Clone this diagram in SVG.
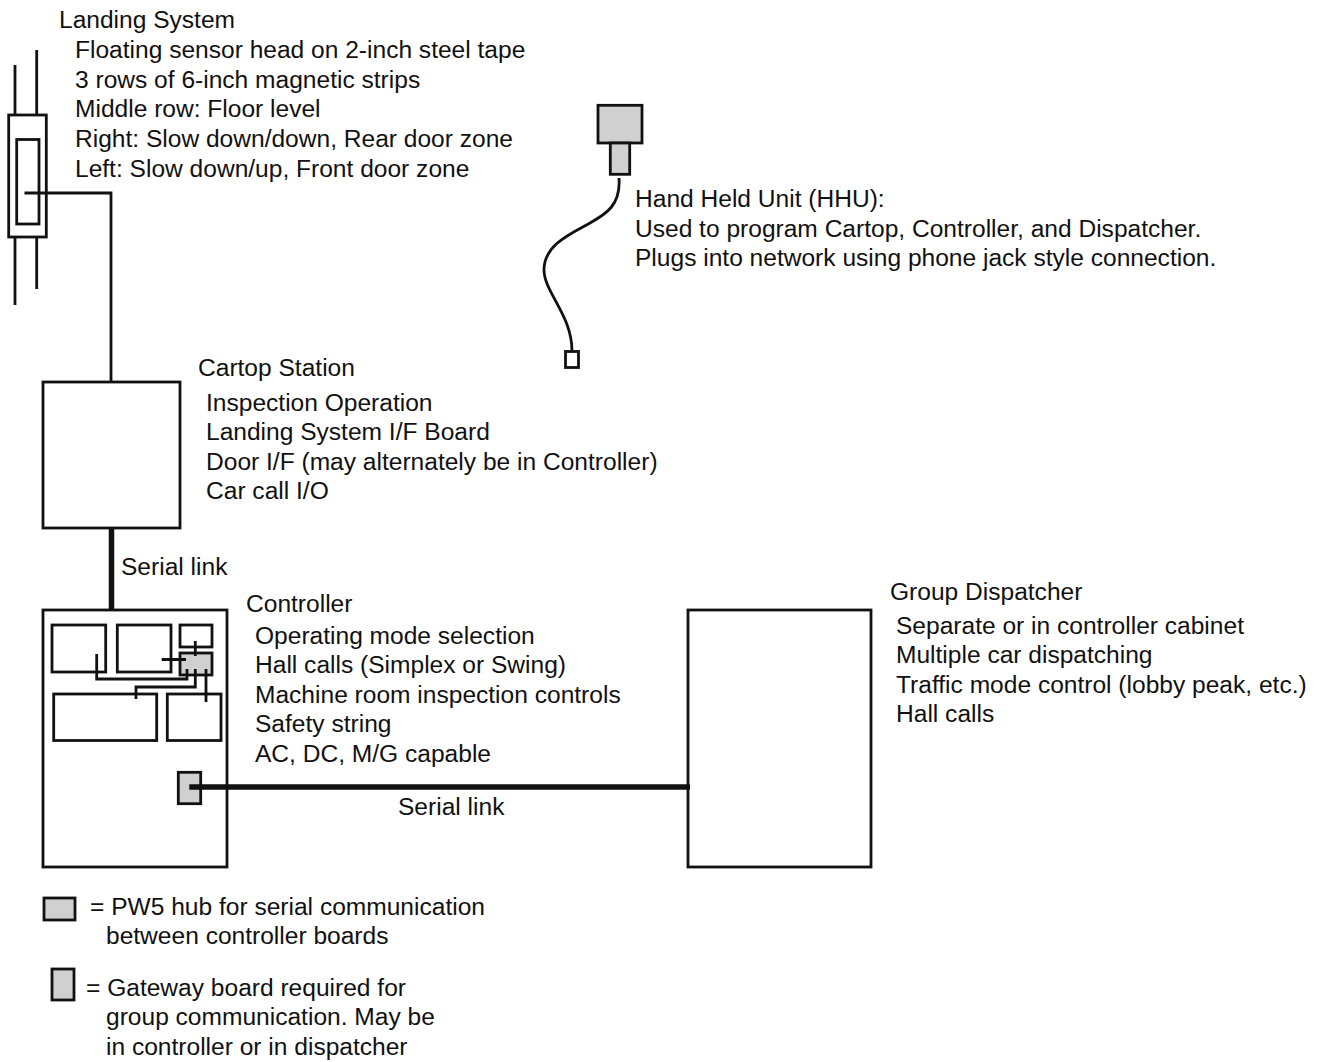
<svg xmlns="http://www.w3.org/2000/svg" width="1321" height="1062" viewBox="0 0 1321 1062">
<style>
text{font-family:"Liberation Sans",Arial,sans-serif;font-size:24.55px;fill:#111}
.b{fill:#fff;stroke:#111;stroke-width:2.8}
.g{fill:#d0d0d0;stroke:#111;stroke-width:2.8}
.l{fill:none;stroke:#111;stroke-width:2.8}
.t{fill:none;stroke:#111;stroke-width:5.5}
</style>
<rect width="1321" height="1062" fill="#fff"/>
<g id="landing-system">
<path class="l" d="M15 65V115M36.700 50V115M15 237V305M36.700 237V289"/>
<rect class="b" x="8.700" y="115" width="37.600" height="122"/>
<rect class="b" x="16.700" y="139.500" width="22.300" height="84.500"/>
<text x="59" y="28">Landing System</text>
<text x="75" y="58">Floating sensor head on 2-inch steel tape</text>
<text x="75" y="88">3 rows of 6-inch magnetic strips</text>
<text x="75" y="117">Middle row: Floor level</text>
<text x="75" y="147">Right: Slow down/down, Rear door zone</text>
<text x="75" y="177">Left: Slow down/up, Front door zone</text>
</g>
<g id="hand-held-unit">
<rect class="g" x="598" y="105.300" width="44" height="37.700"/>
<rect class="g" x="610.300" y="143" width="19.400" height="31.300"/>
<rect class="b" x="565.500" y="351.500" width="13" height="16"/>
<path class="l" d="M619 178C621 205 606 214 590 223C570 234 544 245 544 270C544 292 572 315 572 351"/>
<text x="635" y="207">Hand Held Unit (HHU):</text>
<text x="635" y="237">Used to program Cartop, Controller, and Dispatcher.</text>
<text x="635" y="266">Plugs into network using phone jack style connection.</text>
</g>
<g id="cartop-station">
<rect class="b" x="43" y="382" width="137" height="146"/>
<text x="198" y="376">Cartop Station</text>
<text x="206" y="411">Inspection Operation</text>
<text x="206" y="440">Landing System I/F Board</text>
<text x="206" y="470">Door I/F (may alternately be in Controller)</text>
<text x="206" y="499">Car call I/O</text>
</g>
<g id="controller">
<rect class="b" x="43" y="610" width="184" height="257"/>
<rect class="b" x="52" y="625" width="53.700" height="47"/>
<rect class="b" x="117.300" y="625" width="53.700" height="47"/>
<rect class="b" x="180" y="625" width="32" height="22"/>
<rect class="g" x="180" y="653" width="32" height="22"/>
<rect class="b" x="53.700" y="694" width="103" height="46.500"/>
<rect class="b" x="167.300" y="694" width="53.700" height="46.500"/>
<rect class="g" x="178.300" y="772.300" width="22.400" height="31.400"/>
<text x="246" y="612">Controller</text>
<text x="255" y="644">Operating mode selection</text>
<text x="255" y="673">Hall calls (Simplex or Swing)</text>
<text x="255" y="703">Machine room inspection controls</text>
<text x="255" y="732">Safety string</text>
<text x="255" y="762">AC, DC, M/G capable</text>
</g>
<g id="group-dispatcher">
<rect class="b" x="688" y="610" width="183" height="257"/>
<text x="890" y="600">Group Dispatcher</text>
<text x="896" y="634">Separate or in controller cabinet</text>
<text x="896" y="663">Multiple car dispatching</text>
<text x="896" y="693">Traffic mode control (lobby peak, etc.)</text>
<text x="896" y="722">Hall calls</text>
</g>
<g id="connectors">
<path class="l" d="M24.500 193H111V382"/>
<path class="t" d="M111.500 528V610"/>
<path class="t" d="M189.300 787H690"/>
<path class="l" d="M96.700 654V679H187V669M161.700 659.500H186M195.300 641V656M195.300 669V687H136V699M206 669V702"/>
<text x="121" y="575">Serial link</text>
<text x="398" y="815">Serial link</text>
</g>
<g id="legend">
<rect class="g" x="44" y="898" width="31" height="22"/>
<rect class="g" x="52" y="969" width="22" height="31"/>
<text x="90" y="915">= PW5 hub for serial communication</text>
<text x="106" y="944">between controller boards</text>
<text x="86" y="996">= Gateway board required for</text>
<text x="106" y="1025">group communication. May be</text>
<text x="106" y="1055">in controller or in dispatcher</text>
</g>
</svg>
